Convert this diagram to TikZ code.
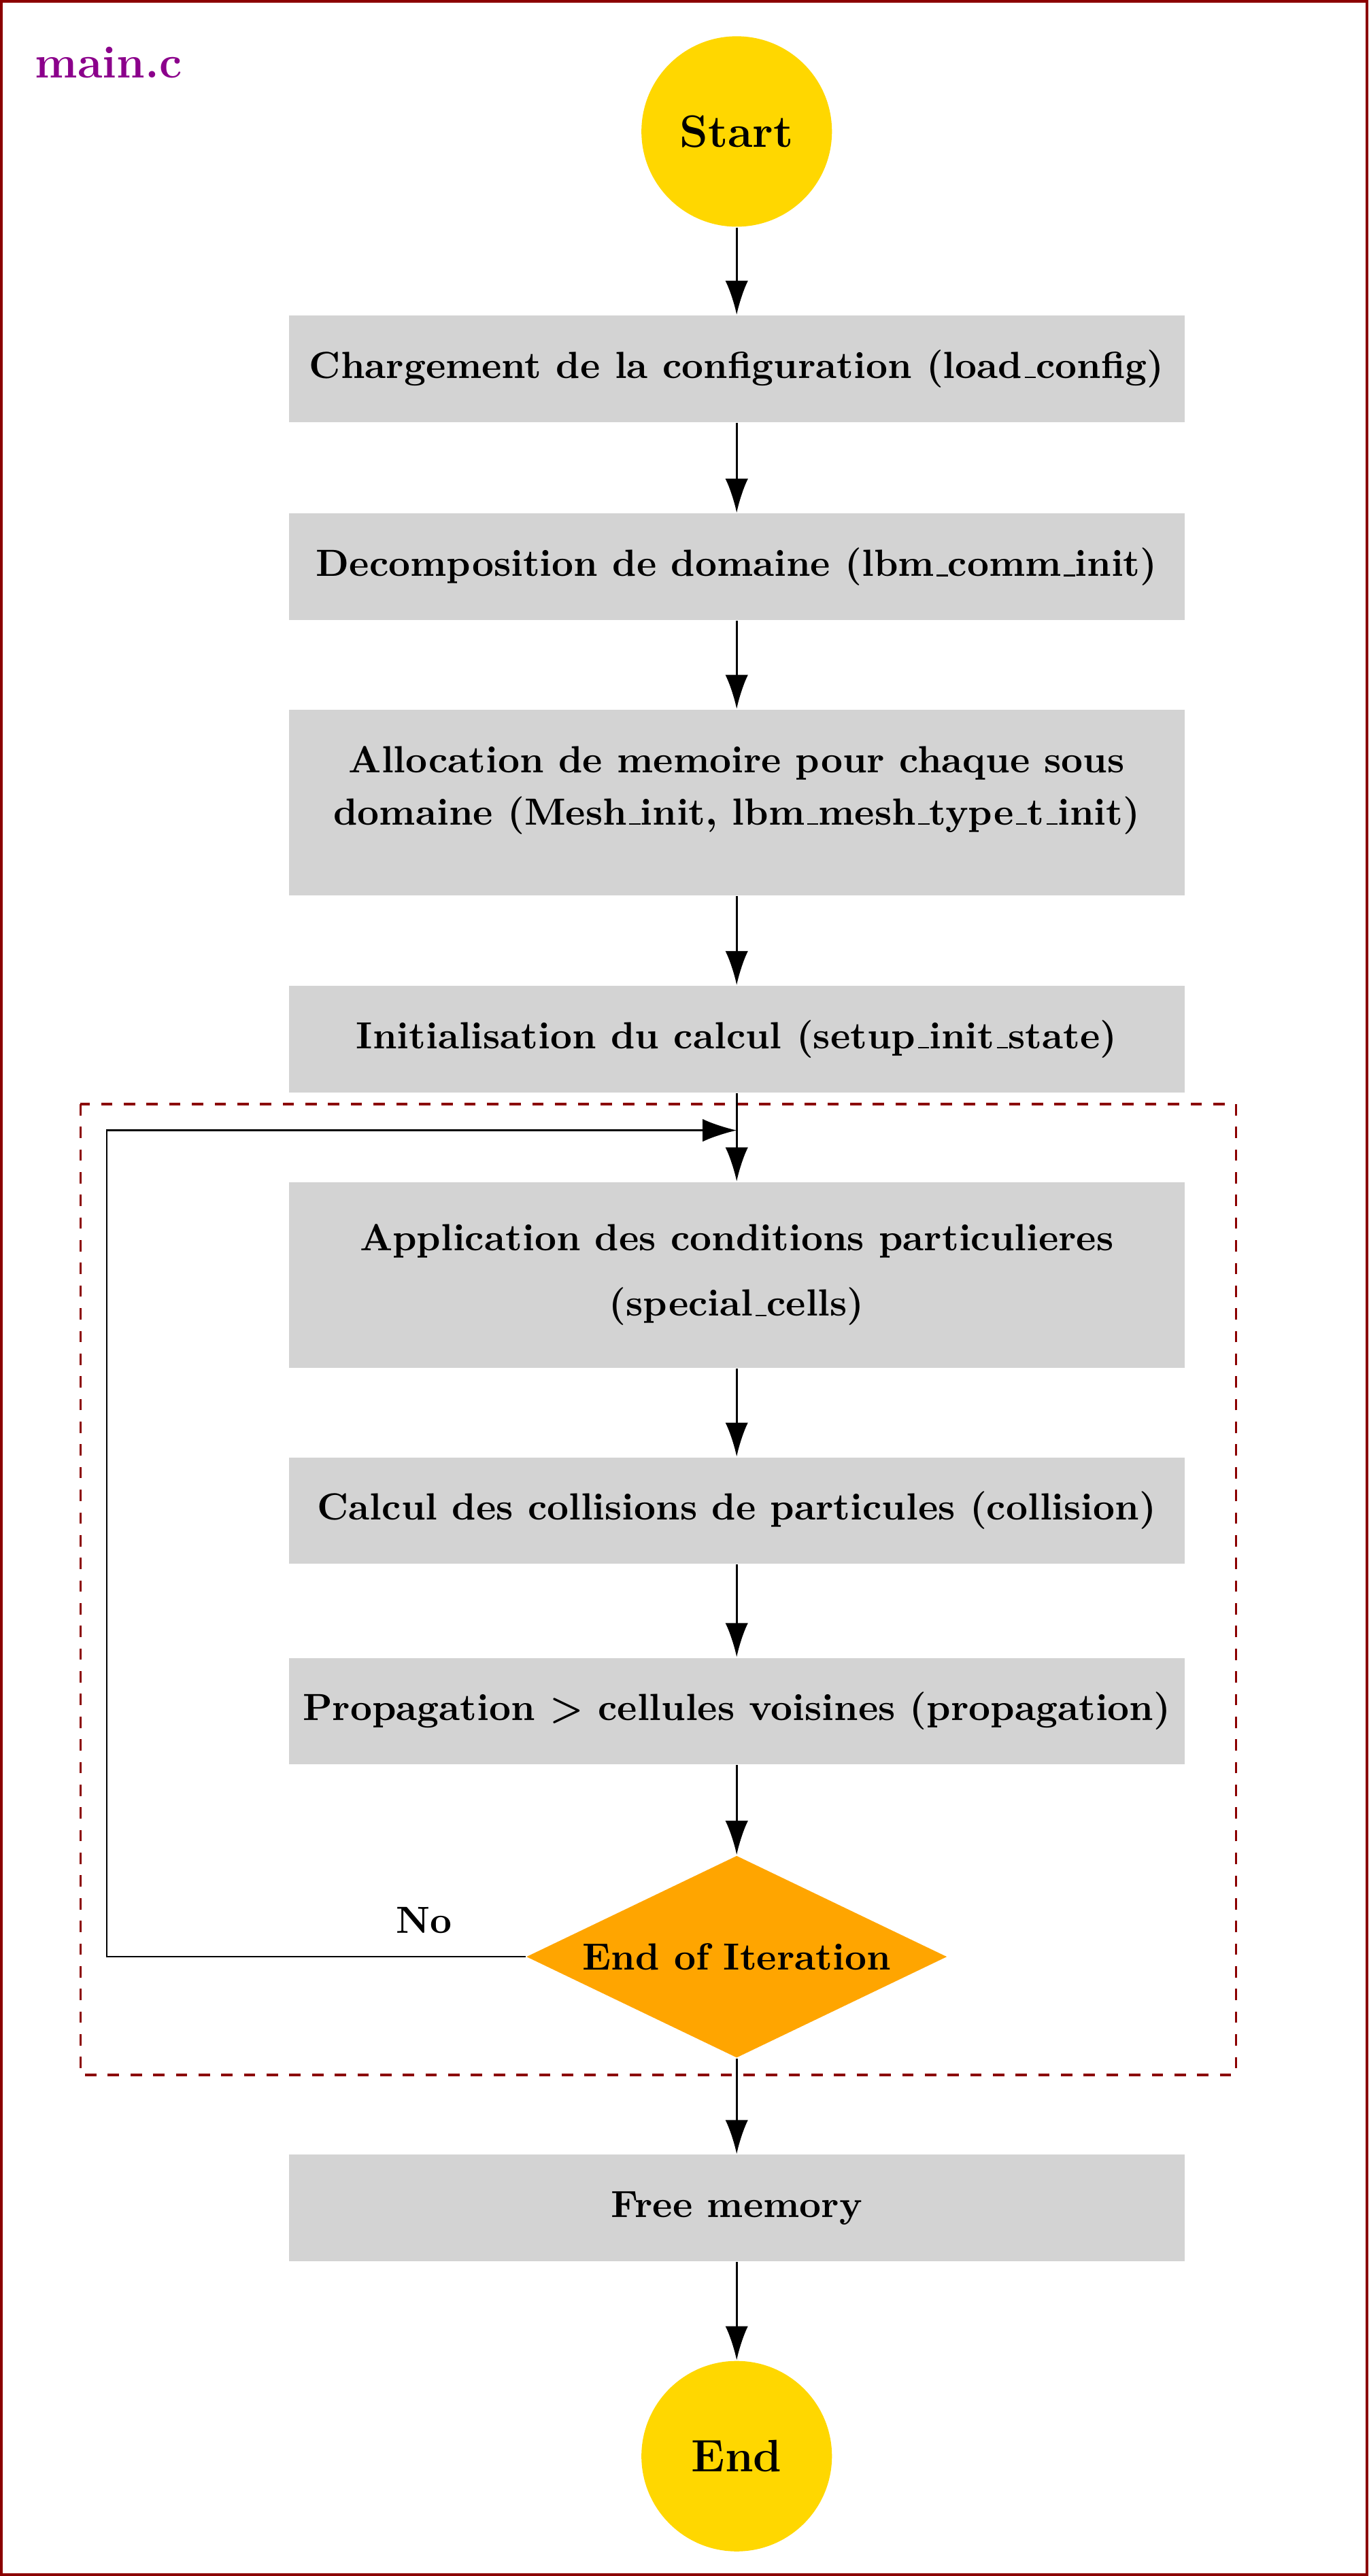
\documentclass[tikz,border=0pt]{standalone}
\usepackage{tikz}
\usetikzlibrary{shapes,arrows.meta}
\definecolor{framered}{RGB}{139,0,0}
\definecolor{titlepurple}{RGB}{139,0,139}
\definecolor{boxgray}{RGB}{211,211,211}
\definecolor{termgold}{RGB}{255,215,0}
\definecolor{testorange}{RGB}{255,165,0}
\newcommand{\usc}{\leavevmode\kern.06em\vbox{\hrule width.3em}}
\tikzset{%
    terminal/.style={%
        circle, minimum size=1.77cm, inner sep=0pt, fill=termgold, font=\large\bfseries
    },
    process_block/.style={%
        rectangle, minimum width=8.32cm, minimum height=0.99cm, text centered, fill=boxgray, align=center, font=\bfseries
    },
    decision/.style={%
        diamond, aspect=2.08, minimum width=3.91cm, minimum height=1.88cm, inner sep=0pt, fill=testorange, font=\bfseries
    },
    flow/.style={%
        ->, line width=0.6pt
    },
    back_edge/.style={%
        ->, line width=0.4pt
    },
    loop_frame/.style={%
        draw=framered, dashed, line width=0.6pt
    },
    page_frame/.style={%
        draw=framered, line width=0.8pt
    },
    >={Latex[length=9pt,width=6pt]},
}

\begin{document}
\begin{tikzpicture}
    \useasboundingbox (0,0) rectangle (12.714,-23.943);
    \draw[page_frame] (0.014,-0.014) rectangle (12.700,-23.929);
    \node[text=titlepurple, font=\large\bfseries] (title) at (1.008,-0.580) {main.c};

    % boucle principale
    \draw[loop_frame] (0.748,-10.261) rectangle (11.483,-19.286);

    \node[terminal] (start) at (6.845,-1.222) {Start};
    \node[process_block] (config) at (6.845,-3.428) {Chargement de la configuration (load\usc config)};
    \node[process_block] (decomp) at (6.845,-5.268) {Decomposition de domaine (lbm\usc comm\usc init)};
    \node[process_block, minimum height=1.725cm] (alloc) at (6.845,-7.459) {Allocation de memoire pour chaque sous\\[1.9pt]domaine (Mesh\usc init, lbm\usc mesh\usc type\usc t\usc init)\\[-3pt]\mbox{}};
    \node[process_block] (init) at (6.845,-9.658) {Initialisation du calcul (setup\usc init\usc state)};
    \node[process_block, minimum height=1.725cm] (special) at (6.845,-11.850) {Application des conditions particulieres\\[5.3pt](special\usc cells)};
    \node[process_block] (collision) at (6.845,-14.041) {Calcul des collisions de particules (collision)};
    \node[process_block] (propag) at (6.845,-15.904) {Propagation > cellules voisines (propagation)};
    \node[decision] (iter) at (6.845,-18.187) {End of Iteration};
    \node[process_block] (free) at (6.845,-20.523) {Free memory};
    \node[terminal] (stop) at (6.845,-22.829) {End};

    \foreach \a/\b in {start/config,config/decomp,decomp/alloc,alloc/init,init/special,special/collision,collision/propag,propag/iter,iter/free,free/stop}
        \draw [flow] (\a) -- (\b);

    \coordinate (back_left) at (0.993,-18.187);
    \coordinate (back_top) at (6.845,-10.506);
    \draw [back_edge] (iter.west) -- node[above=2.7pt, pos=0.243, font=\bfseries] {No} (back_left) |- (back_top);

  \end{tikzpicture}
\end{document}
